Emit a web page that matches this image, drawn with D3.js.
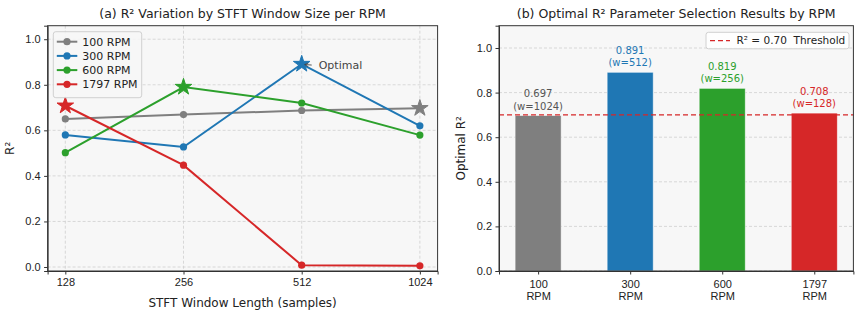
<!DOCTYPE html>
<html>
<head>
<meta charset="utf-8">
<script src="https://cdn.jsdelivr.net/npm/d3@7"></script>
<style>
  body { margin: 0; background: #fff; }
  svg { font-family: "DejaVu Sans", sans-serif; }
  .tick text { font-size: 11px; fill: #222; }
</style>
</head>
<body>
<svg id="chart" width="858" height="314"></svg>
<script>
// ---- data ----
var windows = ["128", "256", "512", "1024"]
var rpmLabels = ["100 RPM", "300 RPM", "600 RPM", "1797 RPM"]
var colors = ["#7f7f7f", "#1f77b4", "#2ca02c", "#d62728"]
var r2_100 = [0.650, 0.669, 0.687, 0.697]
var r2_300 = [0.580, 0.527, 0.891, 0.620]
var r2_600 = [0.502, 0.790, 0.720, 0.579]
var r2_1797 = [0.708, 0.447, 0.008, 0.005]
var bestIdx = [3, 2, 1, 0]

var barCats = ["100", "300", "600", "1797"]
var barValues = [0.697, 0.891, 0.819, 0.708]
var barWindows = [1024, 512, 256, 128]
var threshold = 0.70
var yTicks = [0, 0.2, 0.4, 0.6, 0.8, 1.0]

var series = [r2_100, r2_300, r2_600, r2_1797]

var svg = d3.select('#chart')
var gridColor = '#cfcfcf'
var axisColor = '#333'

////////////////
// PANEL (a)  //
////////////////
var a = {left: 47.6, right: 437.6, top: 25.7, bottom: 271}
var xA = d3.scaleLinear().domain([-0.15, 3.15]).range([a.left, a.right])
var yA = d3.scaleLinear().domain([-0.0176, 1.0594]).range([a.bottom, a.top])

svg.append('rect')
  .attr('x', a.left).attr('y', a.top)
  .attr('width', a.right - a.left).attr('height', a.bottom - a.top)
  .attr('fill', '#f7f7f7')

var gA = svg.append('g')
// grid
gA.selectAll('line.gy').data(yTicks).enter().append('line')
  .attr('x1', a.left).attr('x2', a.right)
  .attr('y1', d => yA(d)).attr('y2', d => yA(d))
  .attr('stroke', gridColor).attr('stroke-dasharray', '3,2').attr('stroke-width', 0.8)
gA.selectAll('line.gx').data(windows).enter().append('line')
  .attr('x1', (d, i) => xA(i)).attr('x2', (d, i) => xA(i))
  .attr('y1', a.top).attr('y2', a.bottom)
  .attr('stroke', gridColor).attr('stroke-dasharray', '3,2').attr('stroke-width', 0.8)

var line = d3.line().x((d, i) => xA(i)).y(d => yA(d))
var star = d3.symbol().type(d3.symbolStar).size(85)

series.forEach(function(s, k) {
  gA.append('path').attr('d', line(s))
    .attr('fill', 'none').attr('stroke', colors[k]).attr('stroke-width', 2)
  s.forEach(function(v, i) {
    if (i === bestIdx[k]) return
    gA.append('circle').attr('cx', xA(i)).attr('cy', yA(v)).attr('r', 3.6)
      .attr('fill', colors[k])
  })
})
series.forEach(function(s, k) {
  var i = bestIdx[k]
  gA.append('path').attr('d', star())
    .attr('transform', 'translate(' + xA(i) + ',' + yA(s[i]) + ')')
    .attr('fill', colors[k]).attr('stroke', colors[k]).attr('stroke-width', 1)
})

// annotation
svg.append('defs').append('marker').attr('id', 'arr')
  .attr('viewBox', '0 0 10 10').attr('refX', 9).attr('refY', 5)
  .attr('markerWidth', 5).attr('markerHeight', 5).attr('orient', 'auto')
  .append('path').attr('d', 'M1,1 L9,5 L1,9').attr('fill', 'none')
  .attr('stroke', '#444').attr('stroke-width', 1.6)
var optX = xA(2), optY = yA(r2_300[2])
svg.append('line').attr('x1', optX + 10).attr('y1', optY + 1)
  .attr('x2', optX + 3).attr('y2', optY + 0.5)
  .attr('stroke', '#444').attr('stroke-width', 0.9).attr('marker-end', 'url(#arr)')
svg.append('text').attr('x', optX + 17).attr('y', optY + 4.5)
  .attr('font-size', 11).attr('fill', '#444').text('Optimal')

// axes
svg.append('g').attr('transform', 'translate(0,' + a.bottom + ')')
  .call(d3.axisBottom(xA).tickValues([0, 1, 2, 3]).tickFormat(i => windows[i]).tickSize(3.5).tickPadding(3.5))
svg.append('g').attr('transform', 'translate(' + a.left + ',0)')
  .call(d3.axisLeft(yA).tickValues(yTicks).tickFormat(d3.format('.1f')).tickSize(3.5).tickPadding(3.5))
svg.append('rect')
  .attr('x', a.left).attr('y', a.top)
  .attr('width', a.right - a.left).attr('height', a.bottom - a.top)
  .attr('fill', 'none').attr('stroke', axisColor).attr('stroke-width', 1)

// legend (a)
var legA = svg.append('g').attr('transform', 'translate(53.3,31.7)')
legA.append('rect').attr('width', 88.4).attr('height', 66).attr('rx', 2.5)
  .attr('fill', '#f7f7f7').attr('fill-opacity', 0.85).attr('stroke', '#d0d0d0')
rpmLabels.forEach(function(lab, k) {
  var y = 10 + k * 14.2
  legA.append('line').attr('x1', 3.5).attr('x2', 24).attr('y1', y).attr('y2', y)
    .attr('stroke', colors[k]).attr('stroke-width', 2)
  legA.append('circle').attr('cx', 13.7).attr('cy', y).attr('r', 3.6).attr('fill', colors[k])
  legA.append('text').attr('x', 29).attr('y', y + 4).attr('font-size', 11)
    .attr('fill', '#222').text(lab)
})

svg.append('text').attr('x', (a.left + a.right) / 2).attr('y', 18)
  .attr('text-anchor', 'middle').attr('font-size', 12.5).attr('fill', '#222')
  .text('(a) R² Variation by STFT Window Size per RPM')
svg.append('text').attr('x', (a.left + a.right) / 2).attr('y', 307)
  .attr('text-anchor', 'middle').attr('font-size', 12).attr('fill', '#222')
  .text('STFT Window Length (samples)')
svg.append('text').attr('transform', 'translate(14,' + ((a.top + a.bottom) / 2) + ') rotate(-90)')
  .attr('text-anchor', 'middle').attr('font-size', 12).attr('fill', '#222').text('R²')

////////////////
// PANEL (b)  //
////////////////
var b = {left: 499, right: 853.4, top: 25.7, bottom: 271}
var xB = d3.scaleLinear().domain([-0.425, 3.425]).range([b.left, b.right])
var yB = d3.scaleLinear().domain([0, 1.1]).range([b.bottom, b.top])
var barW = xB(0.5) - xB(0)

svg.append('rect')
  .attr('x', b.left).attr('y', b.top)
  .attr('width', b.right - b.left).attr('height', b.bottom - b.top)
  .attr('fill', '#f7f7f7')

var gB = svg.append('g')
gB.selectAll('line.gy').data(yTicks).enter().append('line')
  .attr('x1', b.left).attr('x2', b.right)
  .attr('y1', d => yB(d)).attr('y2', d => yB(d))
  .attr('stroke', gridColor).attr('stroke-dasharray', '3,2').attr('stroke-width', 0.8)

gB.selectAll('rect.bar').data(barValues).enter().append('rect')
  .attr('x', (d, i) => xB(i) - barW / 2).attr('width', barW)
  .attr('y', d => yB(d)).attr('height', d => yB(0) - yB(d))
  .attr('fill', (d, i) => colors[i]).attr('stroke', '#fff').attr('stroke-opacity', 0.6).attr('stroke-width', 0.8)

var labColors = ['#555', colors[1], colors[2], colors[3]]
barValues.forEach(function(v, i) {
  gB.append('text').attr('x', xB(i)).attr('y', yB(v) - 6)
    .attr('text-anchor', 'middle').attr('font-size', 10).attr('fill', labColors[i])
    .text('(w=' + barWindows[i] + ')')
  gB.append('text').attr('x', xB(i)).attr('y', yB(v) - 18.5)
    .attr('text-anchor', 'middle').attr('font-size', 10).attr('fill', labColors[i])
    .text(v.toFixed(3))
})

gB.append('line').attr('x1', b.left).attr('x2', b.right)
  .attr('y1', yB(threshold)).attr('y2', yB(threshold))
  .attr('stroke', colors[3]).attr('stroke-width', 1.4).attr('stroke-dasharray', '5,3')

var xAxB = svg.append('g').attr('transform', 'translate(0,' + b.bottom + ')')
  .call(d3.axisBottom(xB).tickValues([0, 1, 2, 3]).tickFormat('').tickSize(3.5))
xAxB.selectAll('.tick').append('text').attr('y', 17).attr('fill', '#222')
  .attr('text-anchor', 'middle').attr('font-size', 11)
  .selectAll('tspan').data(i => [barCats[i], 'RPM']).enter().append('tspan')
  .attr('x', 0).attr('dy', (d, j) => j ? '1.1em' : 0).text(d => d)
svg.append('g').attr('transform', 'translate(' + b.left + ',0)')
  .call(d3.axisLeft(yB).tickValues(yTicks).tickFormat(d3.format('.1f')).tickSize(3.5).tickPadding(3.5))
svg.append('rect')
  .attr('x', b.left).attr('y', b.top)
  .attr('width', b.right - b.left).attr('height', b.bottom - b.top)
  .attr('fill', 'none').attr('stroke', axisColor).attr('stroke-width', 1)

// legend (b)
var legB = svg.append('g').attr('transform', 'translate(706,32.3)')
legB.append('rect').attr('width', 143).attr('height', 16.5).attr('rx', 2.5)
  .attr('fill', '#fff').attr('fill-opacity', 0.85).attr('stroke', '#d0d0d0')
legB.append('line').attr('x1', 4).attr('x2', 24).attr('y1', 8.3).attr('y2', 8.3)
  .attr('stroke', colors[3]).attr('stroke-width', 1.4).attr('stroke-dasharray', '5,3')
legB.append('text').attr('x', 30.5).attr('y', 12.2).attr('font-size', 10.5)
  .attr('fill', '#222').attr('xml:space', 'preserve').text('R² = 0.70  Threshold')

svg.append('text').attr('x', (b.left + b.right) / 2).attr('y', 18)
  .attr('text-anchor', 'middle').attr('font-size', 12.5).attr('fill', '#222')
  .text('(b) Optimal R² Parameter Selection Results by RPM')
svg.append('text').attr('transform', 'translate(465,' + ((b.top + b.bottom) / 2) + ') rotate(-90)')
  .attr('text-anchor', 'middle').attr('font-size', 12).attr('fill', '#222').text('Optimal R²')

svg.selectAll('.domain').attr('stroke', axisColor)
svg.selectAll('.tick line').attr('stroke', axisColor)
</script>
</body>
</html>
